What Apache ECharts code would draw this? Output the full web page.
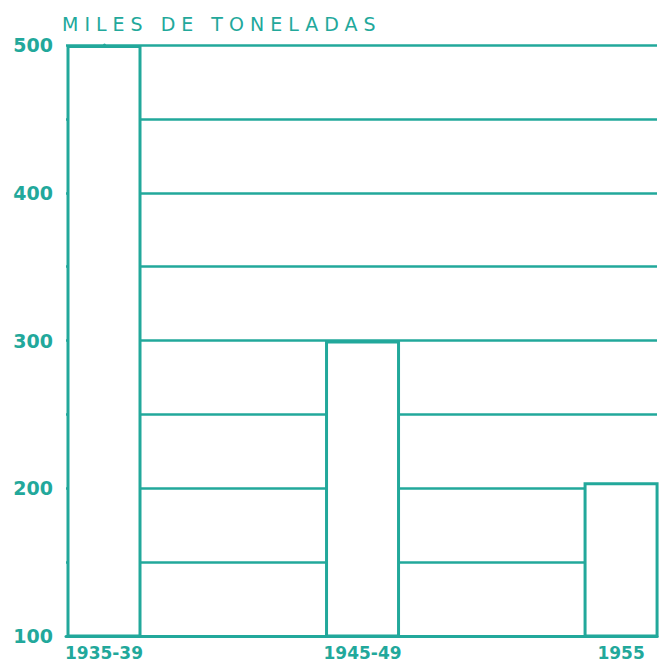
<!DOCTYPE html>
<html>
<head>
<meta charset="utf-8">
<script src="https://cdn.jsdelivr.net/npm/echarts@6/dist/echarts.min.js"></script>
<style>
  html, body { margin: 0; padding: 0; background: #fff; }
  #chart { width: 661px; height: 665px; }
</style>
</head>
<body>
<div id="chart"></div>
<script>
const titleText = 'MILES DE TONELADAS';
const periods = ['1935-39', '1945-49', '1955'];
const tonnes = [500, 300, 204];
const teal = '#22a89b';

const chart = echarts.init(document.getElementById('chart'), null, { renderer: 'svg' });

// spread the title letters like the hand lettering
function spreadTitle() {
  document.querySelectorAll('#chart text').forEach(t => {
    if (t.textContent.trim() === titleText) t.setAttribute('letter-spacing', '6');
  });
}
chart.on('finished', spreadTitle);

chart.setOption({
  animation: false,
  title: {
    text: titleText,
    left: 62,
    top: 14,
    padding: 0,
    textStyle: { color: teal, fontFamily: 'DejaVu Sans', fontSize: 19, fontWeight: 'normal' }
  },
  grid: { left: 66, right: 4, top: 45, bottom: 29 },
  xAxis: {
    type: 'value',
    min: -0.147,
    max: 2.139,
    splitLine: { show: false },
    axisTick: { show: false },
    axisLine: { show: true, lineStyle: { color: teal, width: 3 } },
    axisLabel: {
      customValues: periods.map((p, i) => i),
      formatter: v => periods[Math.round(v)] || '',
      margin: 8,
      color: teal,
      fontFamily: 'DejaVu Sans',
      fontWeight: 'bold',
      fontSize: 17
    }
  },
  yAxis: {
    type: 'value',
    min: 100,
    max: 500,
    interval: 50,
    axisTick: { show: false },
    axisLine: { show: true, lineStyle: { color: teal, width: 3 } },
    splitLine: { show: true, lineStyle: { color: teal, width: 2.5 } },
    axisLabel: {
      formatter: v => (v % 100 === 0 ? String(v) : ''),
      margin: 13,
      color: teal,
      fontFamily: 'DejaVu Sans',
      fontWeight: 'bold',
      fontSize: 19
    }
  },
  series: [{
    type: 'bar',
    barWidth: 75,
    data: tonnes.map((v, i) => [i, v]),
    itemStyle: { color: '#fff', borderColor: teal, borderWidth: 3 }
  }]
});

spreadTitle();
setTimeout(spreadTitle, 50);
</script>
</body>
</html>
